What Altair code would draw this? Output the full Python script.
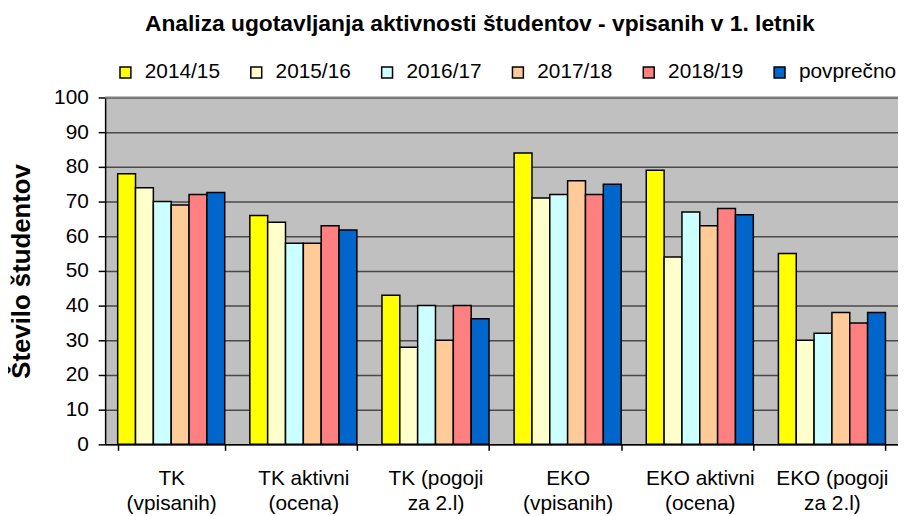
import altair as alt
import pandas as pd

categories = ["TK|(vpisanih)", "TK aktivni|(ocena)", "TK (pogoji|za 2.l)",
              "EKO|(vpisanih)", "EKO aktivni|(ocena)", "EKO (pogoji|za 2.l)"]
series = ["2014/15", "2015/16", "2016/17", "2017/18", "2018/19", "povprečno"]
colors = ["#FFFF00", "#FFFFCC", "#CCFFFF", "#FFCC99", "#FF8080", "#0066CC"]

v_2014_15 = [78, 66, 43, 84, 79, 55]
v_2015_16 = [74, 64, 28, 71, 54, 30]
v_2016_17 = [70, 58, 40, 72, 67, 32]
v_2017_18 = [69, 58, 30, 76, 63, 38]
v_2018_19 = [72, 63, 40, 72, 68, 35]
v_povprecno = [72.6, 61.8, 36.2, 75, 66.2, 38]

top_line = [100]

all_values = [v_2014_15, v_2015_16, v_2016_17, v_2017_18, v_2018_19, v_povprecno]
rows = []
for s, vals in zip(series, all_values):
    for c, v in zip(categories, vals):
        rows.append({"kategorija": c, "leto": s, "vrednost": v})
df = pd.DataFrame(rows)

FONT = "Liberation Sans"

yscale = alt.Scale(domain=[0, 100], nice=False)
yaxis = alt.Axis(tickCount=10, grid=True, gridColor="#4a4a4a", gridWidth=1.5,
                 gridOpacity=1,
                 domainColor="black", domainWidth=1.5,
                 tickColor="black", tickWidth=1.5, tickSize=7,
                 labelFont=FONT, labelFontSize=21, labelColor="black",
                 labelPadding=10, title="Število študentov",
                 titleFont=FONT, titleFontSize=26, titleFontWeight="bold",
                 titleColor="black", titlePadding=19)

bars = alt.Chart(df).mark_bar(stroke="black", strokeWidth=1.5).encode(
    x=alt.X("kategorija:N", sort=categories,
            scale=alt.Scale(paddingInner=0.19, paddingOuter=0.095),
            axis=alt.Axis(title=None, labelAngle=0, labelExpr="split(datum.label, '|')",
                          labelFont=FONT, labelFontSize=21, labelLineHeight=25,
                          labelColor="black", tickBand="extent", tickSize=6,
                          tickColor="black", tickWidth=1.5, domainColor="black",
                          domainWidth=1.5, labelPadding=18, grid=False)),
    xOffset=alt.XOffset("leto:N", sort=series,
                        scale=alt.Scale(paddingInner=0, paddingOuter=0)),
    y=alt.Y("vrednost:Q", scale=yscale, axis=yaxis, title="Število študentov"),
    color=alt.Color("leto:N", sort=series,
                    scale=alt.Scale(domain=series, range=colors),
                    legend=alt.Legend(orient="none", legendX=10, legendY=-36,
                                      direction="horizontal", columns=6,
                                      gridAlign="all", title=None,
                                      symbolType="square", symbolSize=121,
                                      symbolStrokeColor="black",
                                      symbolStrokeWidth=1.5,
                                      labelFont=FONT, labelFontSize=21,
                                      labelColor="black", labelOffset=9,
                                      columnPadding=3)),
)

top = alt.Chart(pd.DataFrame({"vrednost": top_line})).mark_rule(
    color="#808080", strokeWidth=2
).encode(y=alt.Y("vrednost:Q", scale=yscale, axis=yaxis,
                 title="Število študentov"))

chart = alt.layer(bars, top).properties(
    width=800,
    height=350,
    title=alt.Title("Analiza ugotavljanja aktivnosti študentov - vpisanih v 1. letnik",
                    font=FONT, fontSize=23, fontWeight="bold", color="black",
                    anchor="middle", dx=-22, offset=26),
    autosize=alt.AutoSizeParams(type="none"),
    padding={"left": 98, "top": 88, "right": 0, "bottom": 70},
).configure_view(fill="#C0C0C0", strokeWidth=0)

chart.save("out.html", embed_options={"renderer": "svg", "actions": False})
